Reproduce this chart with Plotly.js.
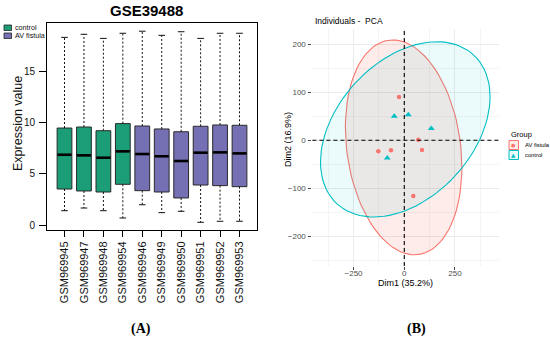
<!DOCTYPE html>
<html>
<head>
<meta charset="utf-8">
<script src="https://cdn.plot.ly/plotly-3.0.1.min.js"></script>
<style>html,body{margin:0;padding:0;background:#fff;}#chart{width:550px;height:341px;}</style>
</head>
<body>
<div id="chart"></div>
<script>
// ---------- Panel A data (GSE39488 boxplot) ----------
const samples = ['GSM969945','GSM969947','GSM969948','GSM969954','GSM969946','GSM969949','GSM969950','GSM969951','GSM969952','GSM969953'];
const sampleGroup = ['control','control','control','control','AV fistula','AV fistula','AV fistula','AV fistula','AV fistula','AV fistula'];
const upperWhisker = [18.3, 18.6, 18.2, 18.7, 18.9, 18.5, 18.85, 18.2, 18.7, 18.7];
const q3Values     = [9.47, 9.57, 9.21, 9.90, 9.67, 9.38, 9.11, 9.64, 9.77, 9.74];
const medianValues = [6.87, 6.81, 6.58, 7.20, 6.94, 6.72, 6.26, 7.07, 7.10, 7.00];
const q1Values     = [3.53, 3.34, 3.24, 3.99, 3.37, 3.24, 2.66, 3.92, 3.86, 3.76];
const lowerWhisker = [1.42, 1.68, 1.42, 0.71, 2.00, 1.23, 1.36, 0.29, 0.39, 0.39];
const boxGroups = ['control','AV fistula'];
const yTicksA = [0, 5, 10, 15];

// ---------- Panel B data (PCA individuals) ----------
const pcaGroups = ['AV fistula','control'];
const avDim1 = [-26, -128, -65.6, 69, 87.3, 44.4];
const avDim2 = [90.2, -22.9, -20.8, 1.4, -20.1, -116];
const ctDim1 = [-49.3, 19.7, 133, -83.8];
const ctDim2 = [50, 53.5, 24.4, -36.8];
const ellipseLevel = 0.95;

// ---------- helpers ----------
const W = 550, H = 341;
const px = x => x / W;
const py = y => 1 - y / H;
const FONT = 'Liberation Sans, Arial, Helvetica, sans-serif';
const boxColors = {'control':'#1B9E77','AV fistula':'#7570B3'};
const pcaColors = {'AV fistula':'#F8766D','control':'#00BFC4'};
const pcaFill = {'AV fistula':'rgba(248,118,109,0.14)','control':'rgba(0,191,196,0.08)'};

// normal-theory confidence ellipse (as ggplot2 stat_ellipse type="norm")
function confEllipse(xs, ys, level) {
  const n = xs.length;
  const mx = xs.reduce((a,b)=>a+b,0)/n, my = ys.reduce((a,b)=>a+b,0)/n;
  let sxx=0, syy=0, sxy=0;
  for (let i=0;i<n;i++){ const dx=xs[i]-mx, dy=ys[i]-my; sxx+=dx*dx; syy+=dy*dy; sxy+=dx*dy; }
  sxx/=(n-1); syy/=(n-1); sxy/=(n-1);
  const a = Math.sqrt(sxx), b = sxy/a, c = Math.sqrt(syy - b*b);
  const dfd = n-1;
  const F = (dfd/2) * (Math.pow(1-level, -2/dfd) - 1);
  const r = Math.sqrt(2*F);
  const ex=[], ey=[];
  const seg = 100;
  for (let k=0;k<=seg;k++){
    const t = 2*Math.PI*k/seg;
    ex.push(mx + r*a*Math.cos(t));
    ey.push(my + r*(b*Math.cos(t) + c*Math.sin(t)));
  }
  return {x:ex, y:ey};
}

const traces = [];

// ---------- Panel A traces ----------
const positions = samples.map((s,i)=>i+1);
const boxWidth = 0.76, capHalf = 0.17;
boxGroups.forEach(g=>{
  const idx = samples.map((s,i)=>i).filter(i=>sampleGroup[i]===g);
  traces.push({
    type:'box', name:g, xaxis:'x', yaxis:'y',
    x: idx.map(i=>positions[i]),
    q1: idx.map(i=>q1Values[i]),
    median: idx.map(i=>medianValues[i]),
    q3: idx.map(i=>q3Values[i]),
    lowerfence: idx.map(i=>q1Values[i]),
    upperfence: idx.map(i=>q3Values[i]),
    width: boxWidth, whiskerwidth: 0,
    fillcolor: boxColors[g], line:{color:'#2a2a2a', width:1},
    boxpoints:false, hoverinfo:'skip', showlegend:false
  });
});
// dashed whiskers
const wx=[], wy=[];
samples.forEach((s,i)=>{
  wx.push(positions[i],positions[i],null,positions[i],positions[i],null);
  wy.push(q3Values[i],upperWhisker[i],null,q1Values[i],lowerWhisker[i],null);
});
traces.push({type:'scatter', mode:'lines', x:wx, y:wy, xaxis:'x', yaxis:'y',
  line:{color:'#111', width:1, dash:'2px,2px'}, hoverinfo:'skip', showlegend:false});
// staples
const sx=[], sy=[];
samples.forEach((s,i)=>{
  sx.push(positions[i]-capHalf,positions[i]+capHalf,null,positions[i]-capHalf,positions[i]+capHalf,null);
  sy.push(upperWhisker[i],upperWhisker[i],null,lowerWhisker[i],lowerWhisker[i],null);
});
traces.push({type:'scatter', mode:'lines', x:sx, y:sy, xaxis:'x', yaxis:'y',
  line:{color:'#111', width:1}, hoverinfo:'skip', showlegend:false});
// thick medians
const mx=[], my=[];
samples.forEach((s,i)=>{
  mx.push(positions[i]-boxWidth/2+0.02,positions[i]+boxWidth/2-0.02,null);
  my.push(medianValues[i],medianValues[i],null);
});
traces.push({type:'scatter', mode:'lines', x:mx, y:my, xaxis:'x', yaxis:'y',
  line:{color:'#000', width:2.6}, hoverinfo:'skip', showlegend:false});

// ---------- Panel B traces ----------
const pcaData = {'AV fistula':{x:avDim1,y:avDim2}, 'control':{x:ctDim1,y:ctDim2}};
pcaGroups.forEach(g=>{
  const e = confEllipse(pcaData[g].x, pcaData[g].y, ellipseLevel);
  traces.push({type:'scatter', mode:'lines', x:e.x, y:e.y, xaxis:'x2', yaxis:'y2',
    fill:'toself', fillcolor:pcaFill[g], line:{color:pcaColors[g], width:1.1},
    hoverinfo:'skip', showlegend:false});
});
pcaGroups.forEach(g=>{
  traces.push({type:'scatter', mode:'markers', name:g, x:pcaData[g].x, y:pcaData[g].y,
    xaxis:'x2', yaxis:'y2',
    marker:{color:pcaColors[g], size: g==='control'?6:4.5, symbol: g==='control'?'triangle-up':'circle'},
    showlegend:false});
});

// ---------- Layout ----------
const layout = {
  width:W, height:H, margin:{l:0,r:0,t:0,b:0},
  paper_bgcolor:'#fff', plot_bgcolor:'rgba(0,0,0,0)',
  font:{family:FONT, color:'#000'},
  showlegend:false,
  xaxis:{domain:[px(47),px(257)], range:[0.1,10.9], tickmode:'array', tickvals:positions, ticktext:samples,
    tickangle:-90, ticks:'outside', ticklen:6, tickcolor:'#000', tickwidth:1,
    showline:true, mirror:true, linecolor:'#000', linewidth:1, showgrid:false, zeroline:false,
    tickfont:{size:11, color:'#111', family:FONT}, anchor:'y', fixedrange:true},
  yaxis:{domain:[py(230),py(23)], range:[-0.46,19.7], tickmode:'array', tickvals:yTicksA,
    ticks:'outside', ticklen:7, tickcolor:'#000', tickwidth:1, ticklabelstandoff:2,
    showline:true, mirror:true, linecolor:'#000', linewidth:1, showgrid:false, zeroline:false,
    tickfont:{size:10, color:'#111', family:FONT}, anchor:'x', fixedrange:true},
  xaxis2:{domain:[px(312.4),px(498.6)], range:[-453,465], tick0:0, dtick:250, anchor:'y2',
    ticks:'outside', ticklen:3, tickcolor:'#444', tickwidth:1, ticklabelstandoff:-4,
    showgrid:true, gridcolor:'#EBEBEB', gridwidth:1, zeroline:false, showline:false,
    minor:{tick0:0, dtick:125, showgrid:true, gridcolor:'#F0F0F0', gridwidth:0.7, ticks:''},
    tickfont:{size:8, color:'#4D4D4D', family:FONT}, fixedrange:true},
  yaxis2:{domain:[py(266),py(29)], range:[-262,232], tick0:0, dtick:100, anchor:'x2',
    ticks:'outside', ticklen:3, tickcolor:'#444', tickwidth:1, ticklabelstandoff:1,
    showgrid:true, gridcolor:'#EBEBEB', gridwidth:1, zeroline:false, showline:false,
    minor:{tick0:0, dtick:50, showgrid:true, gridcolor:'#F0F0F0', gridwidth:0.7, ticks:''},
    tickfont:{size:8, color:'#4D4D4D', family:FONT}, fixedrange:true},
  shapes:[
    // Panel B reference lines at zero
    {type:'line', xref:'x2 domain', yref:'y2', x0:0, x1:1, y0:0, y1:0, line:{color:'#000', width:1.1, dash:'4px,3px'}, layer:'above'},
    {type:'line', xref:'x2', yref:'y2 domain', x0:0, x1:0, y0:0, y1:1, line:{color:'#000', width:1.1, dash:'4px,3px'}, layer:'above'},
    // Panel A legend keys
    {type:'rect', xref:'paper', yref:'paper', x0:px(4), x1:px(11.5), y0:py(30.5), y1:py(25), fillcolor:boxColors['control'], line:{color:'#222', width:0.8}},
    {type:'rect', xref:'paper', yref:'paper', x0:px(4), x1:px(11.5), y0:py(38.5), y1:py(33), fillcolor:boxColors['AV fistula'], line:{color:'#222', width:0.8}},
    // Panel B legend keys
    {type:'rect', xref:'paper', yref:'paper', x0:px(509), x1:px(518.5), y0:py(149.5), y1:py(140.5), fillcolor:pcaFill['AV fistula'], line:{color:pcaColors['AV fistula'], width:1}},
    {type:'rect', xref:'paper', yref:'paper', x0:px(509), x1:px(518.5), y0:py(159.5), y1:py(150.5), fillcolor:pcaFill['control'], line:{color:pcaColors['control'], width:1}}
  ],
  annotations:[
    {text:'<b>GSE39488</b>', xref:'paper', yref:'paper', x:px(146), y:py(10.5), xanchor:'center', yanchor:'middle', showarrow:false, font:{size:15, color:'#000', family:FONT}},
    {text:'Expression value', xref:'paper', yref:'paper', x:px(18), y:py(124), xanchor:'center', yanchor:'middle', textangle:-90, showarrow:false, font:{size:12.5, color:'#111', family:FONT}},
    {text:'control', xref:'paper', yref:'paper', x:px(12.5), y:py(27.6), xanchor:'left', yanchor:'middle', showarrow:false, font:{size:7.2, color:'#111', family:FONT}},
    {text:'AV fistula', xref:'paper', yref:'paper', x:px(12.5), y:py(35.7), xanchor:'left', yanchor:'middle', showarrow:false, font:{size:7.2, color:'#111', family:FONT}},
    {text:'<b>(A)</b>', xref:'paper', yref:'paper', x:px(141), y:py(329), xanchor:'center', yanchor:'middle', showarrow:false, font:{size:14, color:'#000', family:'Liberation Serif, Times New Roman, serif'}},
    {text:'<b>(B)</b>', xref:'paper', yref:'paper', x:px(416.7), y:py(329), xanchor:'center', yanchor:'middle', showarrow:false, font:{size:14, color:'#000', family:'Liberation Serif, Times New Roman, serif'}},
    {text:'Individuals -  PCA', xref:'paper', yref:'paper', x:px(312.5), y:py(21), xanchor:'left', yanchor:'middle', showarrow:false, font:{size:8.5, color:'#000', family:FONT}},
    {text:'Dim1 (35.2%)', xref:'paper', yref:'paper', x:px(405.5), y:py(283), xanchor:'center', yanchor:'middle', showarrow:false, font:{size:9, color:'#000', family:FONT}},
    {text:'Dim2 (16.9%)', xref:'paper', yref:'paper', x:px(288), y:py(140), xanchor:'center', yanchor:'middle', textangle:-90, showarrow:false, font:{size:9, color:'#000', family:FONT}},
    {text:'Group', xref:'paper', yref:'paper', x:px(508.5), y:py(134.5), xanchor:'left', yanchor:'middle', showarrow:false, font:{size:7.5, color:'#000', family:FONT}},
    {text:'●', xref:'paper', yref:'paper', x:px(513.8), y:py(145), xanchor:'center', yanchor:'middle', showarrow:false, font:{size:5, color:pcaColors['AV fistula'], family:'DejaVu Sans'}},
    {text:'▲', xref:'paper', yref:'paper', x:px(513.8), y:py(155), xanchor:'center', yanchor:'middle', showarrow:false, font:{size:5.5, color:pcaColors['control'], family:'DejaVu Sans'}},
    {text:pcaGroups[0], xref:'paper', yref:'paper', x:px(522.5), y:py(145), xanchor:'left', yanchor:'middle', showarrow:false, font:{size:5.8, color:'#000', family:FONT}},
    {text:pcaGroups[1], xref:'paper', yref:'paper', x:px(522.5), y:py(155), xanchor:'left', yanchor:'middle', showarrow:false, font:{size:5.8, color:'#000', family:FONT}}
  ]
};

Plotly.newPlot('chart', traces, layout, {staticPlot:true, displayModeBar:false});
</script>
</body>
</html>
